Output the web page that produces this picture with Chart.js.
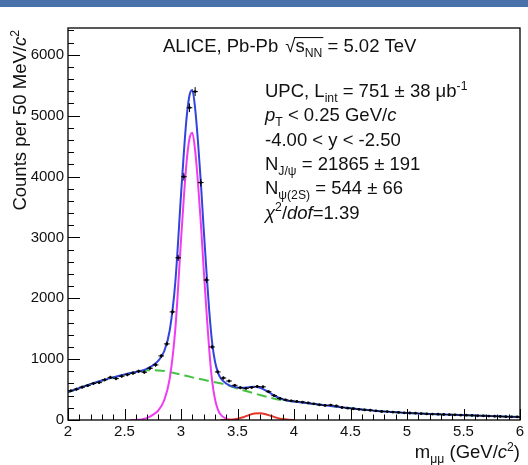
<!DOCTYPE html>
<html>
<head>
<meta charset="utf-8">
<script src="https://cdn.jsdelivr.net/npm/chart.js@4.4.1/dist/chart.umd.min.js"></script>
<style>
  html, body { margin: 0; padding: 0; background: #fff; }
  #massPlot { display: block; }
</style>
</head>
<body>
<canvas id="massPlot" width="528" height="465"></canvas>
<script>
// dimuon invariant mass, 50 MeV bins (bin centres)
const binCenters = [
  2.025, 2.075, 2.125, 2.175, 2.225, 2.275, 2.325, 2.375, 2.425, 2.475,
  2.525, 2.575, 2.625, 2.675, 2.725, 2.775, 2.825, 2.875, 2.925, 2.975,
  3.025, 3.075, 3.125, 3.175, 3.225, 3.275, 3.325, 3.375, 3.425, 3.475,
  3.525, 3.575, 3.625, 3.675, 3.725, 3.775, 3.825, 3.875, 3.925, 3.975,
  4.025, 4.075, 4.125, 4.175, 4.225, 4.275, 4.325, 4.375, 4.425, 4.475,
  4.525, 4.575, 4.625, 4.675, 4.725, 4.775, 4.825, 4.875, 4.925, 4.975,
  5.025, 5.075, 5.125, 5.175, 5.225, 5.275, 5.325, 5.375, 5.425, 5.475,
  5.525, 5.575, 5.625, 5.675, 5.725, 5.775, 5.825, 5.875, 5.925, 5.975
];
const counts = [
  480, 505, 540, 565, 600, 615, 660, 700, 680, 720,
  745, 770, 800, 785, 850, 905, 1053, 1250, 1776, 2664,
  3997, 5130, 5395, 3900, 2300, 1200, 790, 690, 640, 570,
  530, 520, 535, 550, 545, 465, 400, 355, 330, 315,
  305, 295, 280, 265, 250, 240, 245, 230, 205, 195,
  185, 175, 165, 160, 150, 140, 138, 130, 125, 118,
  115, 112, 105, 100, 98, 95, 90, 88, 85, 80,
  80, 75, 70, 68, 65, 62, 58, 55, 52, 50
];
const binHalfWidth = 0.025;

// fit components
const totalFitX = [2.0, 2.1, 2.2, 2.3, 2.4, 2.5, 2.6, 2.65, 2.7, 2.75, 2.8, 2.85, 2.9, 2.95, 3.0, 3.025, 3.05, 3.075, 3.1, 3.125, 3.15, 3.175, 3.2, 3.225, 3.25, 3.275, 3.3, 3.325, 3.35, 3.4, 3.45, 3.5, 3.55, 3.6, 3.65, 3.7, 3.75, 3.8, 3.85, 3.9, 3.95, 4.0, 4.2, 4.4, 4.6, 4.8, 5.0, 5.2, 5.4, 5.6, 5.8, 6.0];
const totalFitY = [460, 525, 590, 648, 700, 748, 790, 810, 845, 895, 975, 1125, 1470, 2270, 3695, 4385, 4975, 5332, 5420, 5120, 4580, 3920, 3160, 2450, 1790, 1280, 970, 790, 690, 600, 553, 535, 530, 540, 548, 530, 485, 430, 378, 340, 317, 303, 257, 214, 174, 139, 117, 99, 85, 73, 61, 49];

const bkgFitX = [2.0, 2.2, 2.4, 2.6, 2.7, 2.8, 2.9, 3.0, 3.1, 3.2, 3.3, 3.4, 3.5, 3.6, 3.7, 3.8, 3.9, 4.0, 4.2, 4.4, 4.6, 4.8, 5.0, 5.2, 5.4, 5.6, 5.8, 6.0];
const bkgFitY = [458, 588, 698, 788, 818, 815, 790, 745, 700, 660, 620, 580, 515, 465, 410, 362, 325, 303, 257, 214, 174, 139, 117, 99, 85, 73, 61, 49];

const jpsiFitX = [2.55, 2.6, 2.65, 2.7, 2.75, 2.8, 2.85, 2.9, 2.95, 3.0, 3.025, 3.05, 3.075, 3.1, 3.125, 3.15, 3.175, 3.2, 3.225, 3.25, 3.275, 3.3, 3.325, 3.35, 3.4, 3.45, 3.5];
const jpsiFitY = [0, 2, 10, 35, 85, 160, 320, 680, 1500, 2950, 3650, 4250, 4620, 4720, 4430, 3900, 3250, 2500, 1800, 1150, 650, 350, 180, 90, 20, 3, 0];

const psi2sFitX = [3.35, 3.4, 3.45, 3.5, 3.55, 3.6, 3.65, 3.7, 3.75, 3.8, 3.85, 3.9, 3.95, 4.0];
const psi2sFitY = [0, 2, 6, 20, 45, 80, 105, 110, 95, 65, 35, 15, 5, 0];

const xTicks = [2, 2.5, 3, 3.5, 4, 4.5, 5, 5.5, 6];
const yTicks = [0, 1000, 2000, 3000, 4000, 5000, 6000];

const FAM = '"Liberation Sans", Arial, Helvetica, sans-serif';
const TXT = 18.5;

function pts(xs, ys) {
  return xs.map((x, i) => ({ x: x, y: ys[i] }));
}

// draws a run of text pieces: k = "sub" | "sup" | undefined, i = italic
function drawRich(ctx, x, y, parts, size, alignRight) {
  const items = parts.map(p => {
    const small = p.k === "sub" || p.k === "sup";
    const s = small ? size * 0.66 : size;
    const font = (p.i ? "italic " : "") + s + "px " + FAM;
    ctx.font = font;
    let dy = 0;
    if (p.k === "sub") dy = size * 0.28;
    if (p.k === "sup") dy = -size * 0.4;
    return { t: p.t, font: font, w: ctx.measureText(p.t).width, dy: dy, gap: p.gap || 0 };
  });
  let total = items.reduce((s, it) => s + it.w + it.gap, 0);
  let cx = alignRight ? x - total : x;
  const pos = [];
  items.forEach(it => {
    cx += it.gap;
    ctx.font = it.font;
    ctx.fillText(it.t, cx, y + it.dy);
    pos.push({ x0: cx, x1: cx + it.w });
    cx += it.w;
  });
  return pos;
}

const rootStyle = {
  id: "rootStyle",
  beforeDraw(chart) {
    const ctx = chart.ctx;
    ctx.save();
    ctx.fillStyle = "#fff";
    ctx.fillRect(0, 0, chart.width, chart.height);
    ctx.fillStyle = "#4a72aa";
    ctx.fillRect(0, 0, chart.width, 7);
    ctx.restore();
  },
  afterDatasetDraw(chart, args) {
    if (args.index !== 0) return;
    const ctx = chart.ctx;
    const xs = chart.scales.x, ys = chart.scales.y;
    const a = chart.chartArea;
    ctx.save();
    ctx.beginPath();
    ctx.rect(a.left, a.top, a.right - a.left, a.bottom - a.top);
    ctx.clip();
    ctx.strokeStyle = "#000";
    ctx.lineWidth = 1;
    binCenters.forEach((c, i) => {
      const err = Math.sqrt(counts[i]);
      const px = xs.getPixelForValue(c);
      const py = ys.getPixelForValue(counts[i]);
      ctx.beginPath();
      ctx.moveTo(xs.getPixelForValue(c - binHalfWidth), py);
      ctx.lineTo(xs.getPixelForValue(c + binHalfWidth), py);
      ctx.moveTo(px, ys.getPixelForValue(counts[i] - err));
      ctx.lineTo(px, ys.getPixelForValue(counts[i] + err));
      ctx.stroke();
    });
    ctx.restore();
  },
  afterDraw(chart) {
    const ctx = chart.ctx;
    const a = chart.chartArea;
    const xs = chart.scales.x, ys = chart.scales.y;
    ctx.save();
    ctx.strokeStyle = "#000";
    ctx.fillStyle = "#111";

    // frame
    ctx.lineWidth = 1.3;
    ctx.strokeRect(a.left, a.top, a.right - a.left, a.bottom - a.top);

    // inward ticks
    ctx.lineWidth = 1;
    ctx.beginPath();
    for (let i = 0; i <= 40; i++) {
      const px = Math.round(xs.getPixelForValue(2 + i * 0.1)) + 0.5;
      const len = i % 5 === 0 ? 11 : 5.5;
      ctx.moveTo(px, a.bottom);
      ctx.lineTo(px, a.bottom - len);
    }
    for (let v = 0; v <= 6400; v += 200) {
      const py = Math.round(ys.getPixelForValue(v)) + 0.5;
      const len = v % 1000 === 0 ? 12 : 6;
      ctx.moveTo(a.left, py);
      ctx.lineTo(a.left + len, py);
    }
    ctx.stroke();

    ctx.textBaseline = "alphabetic";

    // header
    const hy = 52;
    const head = drawRich(ctx, 163, hy, [
      { t: "ALICE, Pb-Pb " },
      { t: "\u221A", gap: 2 },
      { t: "s" },
      { t: "NN", k: "sub" },
      { t: " = 5.02 TeV" }
    ], TXT);
    ctx.lineWidth = 1;
    ctx.beginPath();
    ctx.moveTo(head[1].x1 - 1, hy - TXT * 0.78);
    ctx.lineTo(head[3].x1 + 1, hy - TXT * 0.78);
    ctx.stroke();

    // fit summary
    const lx = 265, ly0 = 97, dl = 24.3;
    drawRich(ctx, lx, ly0, [
      { t: "UPC, L" }, { t: "int", k: "sub" }, { t: " = 751 \u00B1 38 \u03BCb" }, { t: "-1", k: "sup" }
    ], TXT);
    drawRich(ctx, lx, ly0 + dl, [
      { t: "p", i: true }, { t: "T", k: "sub" }, { t: " < 0.25 GeV/" }, { t: "c", i: true }
    ], TXT);
    drawRich(ctx, lx, ly0 + 2 * dl, [{ t: "-4.00 < y < -2.50" }], TXT);
    drawRich(ctx, lx, ly0 + 3 * dl, [
      { t: "N" }, { t: "J/\u03C8", k: "sub" }, { t: " = 21865 \u00B1 191" }
    ], TXT);
    drawRich(ctx, lx, ly0 + 4 * dl, [
      { t: "N" }, { t: "\u03C8(2S)", k: "sub" }, { t: " = 544 \u00B1 66" }
    ], TXT);
    drawRich(ctx, lx, ly0 + 5 * dl, [
      { t: "\u03C7", i: true }, { t: "2", k: "sup" }, { t: "/" }, { t: "dof", i: true }, { t: "=1.39" }
    ], TXT);

    // x title
    drawRich(ctx, 520, 458, [
      { t: "m" }, { t: "\u03BC\u03BC", k: "sub" }, { t: " (GeV/" }, { t: "c", i: true }, { t: "2", k: "sup" }, { t: ")" }
    ], TXT, true);

    // y title, rotated, ending at top of frame
    ctx.translate(26, 30);
    ctx.rotate(-Math.PI / 2);
    drawRich(ctx, 0, 0, [
      { t: "Counts per 50 MeV/" }, { t: "c", i: true }, { t: "2", k: "sup" }
    ], TXT, true);
    ctx.restore();
  }
};

const lineBase = { showLine: true, pointRadius: 0, fill: false, cubicInterpolationMode: "monotone", borderWidth: 2 };

new Chart(document.getElementById("massPlot").getContext("2d"), {
  type: "scatter",
  data: {
    datasets: [
      {
        label: "data",
        data: pts(binCenters, counts),
        showLine: false,
        pointRadius: 1.4,
        pointBackgroundColor: "#000",
        pointBorderColor: "#000",
        pointBorderWidth: 0,
        order: 0
      },
      Object.assign({}, lineBase, { label: "total", data: pts(totalFitX, totalFitY), borderColor: "#3344dd", order: 1 }),
      Object.assign({}, lineBase, { label: "psi2s", data: pts(psi2sFitX, psi2sFitY), borderColor: "#e5352b", order: 2 }),
      Object.assign({}, lineBase, { label: "jpsi", data: pts(jpsiFitX, jpsiFitY), borderColor: "#f03cf0", order: 3 }),
      Object.assign({}, lineBase, { label: "bkg", data: pts(bkgFitX, bkgFitY), borderColor: "#46c146", borderDash: [10, 5], order: 4 })
    ]
  },
  options: {
    responsive: false,
    animation: false,
    layout: { padding: { left: 0, top: 28, right: 8, bottom: 0 } },
    plugins: { legend: { display: false }, tooltip: { enabled: false } },
    scales: {
      x: {
        type: "linear",
        min: 2,
        max: 6,
        afterFit(scale) { scale.height = 45; },
        afterBuildTicks(scale) { scale.ticks = xTicks.map(v => ({ value: v })); },
        grid: { display: false, drawTicks: false },
        border: { display: false },
        ticks: {
          padding: 3,
          color: "#111",
          font: { family: FAM, size: 15 },
          maxRotation: 0,
          autoSkip: false,
          callback: v => String(v)
        }
      },
      y: {
        min: 0,
        max: 6440,
        afterFit(scale) { scale.width = 68; },
        afterBuildTicks(scale) { scale.ticks = yTicks.map(v => ({ value: v })); },
        grid: { display: false, drawTicks: false },
        border: { display: false },
        ticks: {
          padding: 4,
          color: "#111",
          autoSkip: false,
          font: { family: FAM, size: 15 },
          callback: v => String(v)
        }
      }
    }
  },
  plugins: [rootStyle]
});
</script>
</body>
</html>
